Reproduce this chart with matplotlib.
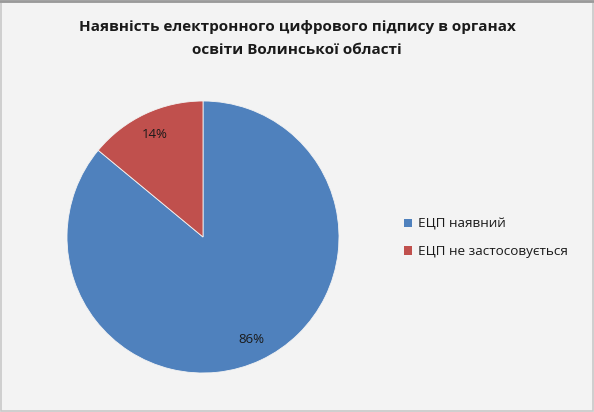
import matplotlib.pyplot as plt
from matplotlib.patches import Rectangle
from matplotlib.lines import Line2D

# data
labels = ["ЕЦП наявний", "ЕЦП не застосовується"]
shares = [86, 14]
colors = ["#4F81BD", "#C0504D"]
title = "Наявність електронного цифрового підпису в органах\nосвіти Волинської області"

plt.rcParams['font.family'] = ['Open Sans', 'DejaVu Sans']

fig = plt.figure(figsize=(5.94, 4.12), dpi=100)
fig.patch.set_facecolor("#F3F3F3")

# thin frame round the picture
fig.patches.append(Rectangle((0.002, 0.002), 0.996, 0.994, transform=fig.transFigure,
                             fill=False, edgecolor="#C8C8C8", linewidth=1.2))
fig.add_artist(Line2D([0, 1], [0.997, 0.997], transform=fig.transFigure,
                      color="#9A9A9A", linewidth=2))

# pie centre ~ (203, 237) px, radius ~136 px
W, H = 594, 412
cx, cy, r = 203, 237, 136
ax = fig.add_axes([(cx - r) / W, (H - cy - r) / H, 2 * r / W, 2 * r / H])
ax.set_facecolor("none")

wedges, texts, autotexts = ax.pie(
    shares, colors=colors, startangle=90, counterclock=False,
    autopct="%1.0f%%", pctdistance=0.83, radius=1.0,
    wedgeprops=dict(linewidth=0.6, edgecolor="#F3F3F3"),
    textprops=dict(fontsize=9.5, color="#1A1A1A"))
ax.set_xlim(-1, 1)
ax.set_ylim(-1, 1)
ax.set_aspect("auto")

fig.text(297 / W, 1 - 38.5 / H, title, ha="center", va="center",
         fontsize=11, fontweight="bold", color="#1A1A1A", linespacing=1.75)

handles = [Rectangle((0, 0), 1, 1, facecolor=c) for c in colors]
fig.legend(handles, labels, loc="center left", bbox_to_anchor=(392 / W, 1 - 238 / H),
           frameon=False, fontsize=9.7, handlelength=0.6, handleheight=0.6,
           handletextpad=0.45, labelspacing=1.05, labelcolor="#1A1A1A")

fig.savefig("out.png", dpi=100, facecolor=fig.get_facecolor())
